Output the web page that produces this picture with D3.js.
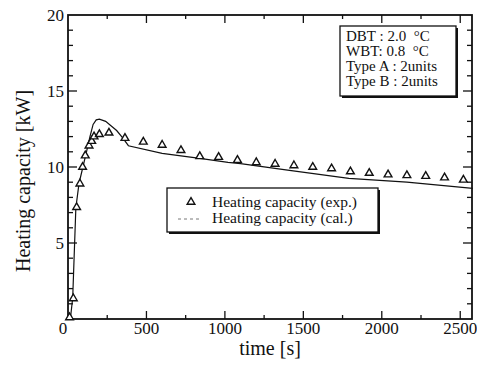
<!DOCTYPE html>
<html>
<head>
<meta charset="utf-8">
<script src="https://cdn.jsdelivr.net/npm/d3@7"></script>
<style>
  html, body { margin: 0; padding: 0; background: #fff; }
  svg { display: block; font-family: 'Liberation Serif', 'Times New Roman', serif; }
</style>
</head>
<body>
<div id="chart"></div>
<script>
'use strict';

// measured heating capacity (triangles)
const expTime = [10, 34, 55, 76, 93, 110, 134, 151, 166, 200, 261, 363, 480, 600, 720, 840, 960,
                 1080, 1200, 1320, 1440, 1560, 1680, 1800, 1920, 2040, 2160, 2280, 2400, 2520];
const expHeat = [0.1, 1.35, 7.35, 8.9, 10.0, 10.75, 11.4, 11.7, 12.0, 12.15, 12.25, 11.9, 11.65, 11.45, 11.1, 10.7, 10.65,
                 10.45, 10.3, 10.2, 10.1, 10.0, 9.9, 9.7, 9.6, 9.5, 9.45, 9.4, 9.3, 9.15];

// calculated heating capacity (line)
const calcTime = [15, 30, 50, 70, 95, 120, 140, 160, 180, 200, 240, 270, 310, 350, 385, 600, 840, 1020, 1100, 1400, 1790, 2160, 2580];
const calcHeat = [0, 1.4, 7.3, 8.9, 10.0, 11.1, 12.0, 12.8, 13.1, 13.15, 13.0, 12.75, 12.4, 11.9, 11.4, 10.9, 10.57, 10.3, 10.22, 9.8, 9.25, 9.0, 8.6];

const xTickLabels = [0, 500, 1000, 1500, 2000, 2500];
const yTickLabels = [5, 10, 15, 20];
const legendLabels = ['Heating capacity (exp.)', 'Heating capacity (cal.)'];
const conditionLines = ['DBT : 2.0  \u00B0C', 'WBT: 0.8  \u00B0C', 'Type A : 2units', 'Type B : 2units'];

const W = 477, H = 368;
const M = { left: 68, right: 5, top: 15, bottom: 49 };

const svg = d3.select('#chart').append('svg')
    .attr('width', W)
    .attr('height', H);

const x = d3.scaleLinear().domain([0, 2575]).range([M.left, W - M.right]);
const y = d3.scaleLinear().domain([0, 20]).range([H - M.bottom, M.top]);

const ink = '#111';

// minor ticks: every 250 s / every 1 kW; major every 500 s / every 5 kW
const xMinor = d3.range(250, 2575, 250);
const yMinor = d3.range(1, 20, 1);

function tickLen(isMajor) { return isMajor ? 8 : 4; }

const frame = svg.append('g');

// bottom + top ticks
frame.selectAll('.xt').data(xMinor).join('g').each(function (d) {
    const g = d3.select(this), major = d % 500 === 0, L = tickLen(major);
    g.append('line').attr('x1', x(d)).attr('x2', x(d))
        .attr('y1', y(0)).attr('y2', y(0) - L).attr('stroke', ink).attr('stroke-width', 1.3);
    g.append('line').attr('x1', x(d)).attr('x2', x(d))
        .attr('y1', y(20)).attr('y2', y(20) + L).attr('stroke', ink).attr('stroke-width', 1.3);
});

// left + right ticks
frame.selectAll('.yt').data(yMinor).join('g').each(function (d) {
    const g = d3.select(this), major = d % 5 === 0, L = tickLen(major) + 1;
    g.append('line').attr('x1', x(0)).attr('x2', x(0) + L)
        .attr('y1', y(d)).attr('y2', y(d)).attr('stroke', ink).attr('stroke-width', 1.3);
    g.append('line').attr('x1', x(2575)).attr('x2', x(2575) - L)
        .attr('y1', y(d)).attr('y2', y(d)).attr('stroke', ink).attr('stroke-width', 1.3);
});

// plot frame
frame.append('rect')
    .attr('x', x(0)).attr('y', y(20))
    .attr('width', x(2575) - x(0)).attr('height', y(0) - y(20))
    .attr('fill', 'none').attr('stroke', ink).attr('stroke-width', 1.8);

// tick labels
svg.append('g').selectAll('text').data(xTickLabels).join('text')
    .attr('x', d => x(d) + (d === 0 ? -5 : 0))
    .attr('y', y(0) + 15)
    .attr('text-anchor', 'middle')
    .attr('font-size', 17)
    .attr('fill', ink)
    .text(d => d);

svg.append('g').selectAll('text').data(yTickLabels).join('text')
    .attr('x', x(0) - 4)
    .attr('y', d => y(d) + 6)
    .attr('text-anchor', 'end')
    .attr('font-size', 17)
    .attr('fill', ink)
    .text(d => d);

// axis titles
svg.append('text')
    .attr('x', (x(0) + x(2575)) / 2)
    .attr('y', 355)
    .attr('text-anchor', 'middle')
    .attr('font-size', 20)
    .attr('fill', ink)
    .text('time [s]');

svg.append('text')
    .attr('transform', 'translate(30,181) rotate(-90)')
    .attr('text-anchor', 'middle')
    .attr('font-size', 20)
    .attr('fill', ink)
    .text('Heating capacity [kW]');

// calculated line
const calc = calcTime.map((t, i) => [t, calcHeat[i]]);
svg.append('path')
    .datum(calc)
    .attr('fill', 'none')
    .attr('stroke', ink)
    .attr('stroke-width', 1.2)
    .attr('d', d3.line().x(d => x(d[0])).y(d => y(d[1])));

// measured triangles
const tri = d3.symbol().type(d3.symbolTriangle).size(26);
svg.append('g').selectAll('path').data(expTime.map((t, i) => [t, expHeat[i]])).join('path')
    .attr('transform', d => `translate(${x(d[0])},${y(d[1])})`)
    .attr('d', tri)
    .attr('fill', '#fff')
    .attr('stroke', ink)
    .attr('stroke-width', 1.4);

// legend box with shadow
const lg = svg.append('g').attr('transform', 'translate(167,188)');
lg.append('rect').attr('x', 2).attr('y', 2).attr('width', 211).attr('height', 44).attr('fill', ink);
lg.append('rect').attr('width', 211).attr('height', 44).attr('fill', '#fff').attr('stroke', ink).attr('stroke-width', 1.3);
lg.append('path').attr('transform', 'translate(24,14)').attr('d', tri)
    .attr('fill', '#fff').attr('stroke', ink).attr('stroke-width', 1.4);
lg.append('line').attr('x1', 11).attr('x2', 34).attr('y1', 31).attr('y2', 31)
    .attr('stroke', '#555').attr('stroke-width', 0.8).attr('stroke-dasharray', '3,3');
lg.selectAll('text').data(legendLabels).join('text')
    .attr('x', 45)
    .attr('y', (d, i) => 19 + i * 16)
    .attr('font-size', 15.5)
    .attr('fill', ink)
    .text(d => d);

// test condition box with shadow
const cb = svg.append('g').attr('transform', 'translate(340,26)');
cb.append('rect').attr('x', 2).attr('y', 2).attr('width', 116).attr('height', 70).attr('fill', ink);
cb.append('rect').attr('width', 116).attr('height', 70).attr('fill', '#fff').attr('stroke', ink).attr('stroke-width', 1.3);
cb.selectAll('text').data(conditionLines).join('text')
    .attr('x', 6)
    .attr('y', (d, i) => 15 + i * 15)
    .attr('font-size', 15)
    .attr('fill', ink)
    .attr('xml:space', 'preserve')
    .style('white-space', 'pre')
    .text(d => d);
</script>
</body>
</html>
